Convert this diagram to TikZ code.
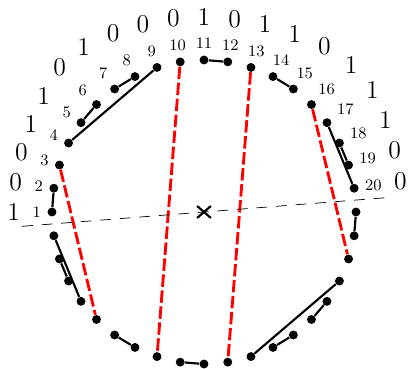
\documentclass[tikz,border=0pt]{standalone}
\usepackage{tikz}
\usetikzlibrary{shapes.misc}

\begin{document}
\begin{tikzpicture}[
    dot/.style={circle, fill, inner sep=0pt, minimum size=5pt},
    num/.style={font=\small},
    bit/.style={font=\Large},
    chord/.style={very thick},
    cut/.style={red, ultra thick, dash pattern=on 7pt off 2pt},
    axis/.style={dash pattern=on 6pt off 5pt}
  ]
  \useasboundingbox (-4.026,-3.079) rectangle (4.026,4.184);

  % the 40 points
  \foreach \i in {1,...,40} {
    \pgfmathtruncatemacro\ang{189-9*\i}
    \node[dot] (p\i) at (\ang:3) {};
  }

  % numbers and bits of the upper half
  \foreach \b [count=\i] in {1,0,0,1,1,0,1,0,0,0,1,0,1,1,0,1,1,1,0,0} {
    \pgfmathtruncatemacro\ang{189-9*\i}
    \pgfmathtruncatemacro\opp{\ang+180}
    \node[num, anchor=\opp] (n\i) at (p\i.\ang) {\i};
    \node[bit, anchor=\opp] (b\i) at (n\i.\ang) {\b};
  }

  \draw[chord] (p1) -- (p2) (p4) -- (p9) (p5) -- (p6) (p7) -- (p8)
    (p11) -- (p12) (p14) -- (p15) (p17) -- (p20) (p18) -- (p19);
  \draw[chord] (p21) -- (p22) (p24) -- (p29) (p25) -- (p26) (p27) -- (p28)
    (p31) -- (p32) (p34) -- (p35) (p37) -- (p40) (p38) -- (p39);

  \draw[cut] (p3) -- (p36) (p10) -- (p33) (p13) -- (p30) (p16) -- (p23);

  \coordinate (l) at (184.5:3.6);
  \coordinate (r) at (4.5:3.6);
  \draw[axis] (l) -- (r);
  \node[draw, cross out, very thick, inner sep=0pt,
    minimum width=6.5pt, minimum height=5.5pt] (o) at (0,0) {};
\end{tikzpicture}
\end{document}
